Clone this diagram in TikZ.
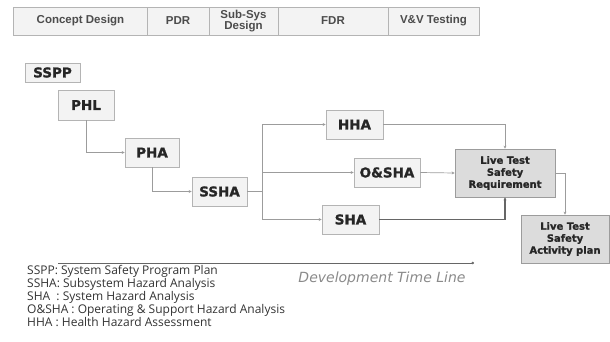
\documentclass[tikz,border=0pt]{standalone}
\usepackage{fontspec}
\setmainfont{Open Sans}
\newfontfamily\boxfont{DejaVu Sans}[BoldFeatures={FakeBold=1.2}]
\newfontfamily\tlfont{DejaVu Sans}
\newfontfamily\barfont{Liberation Sans}
\usetikzlibrary{arrows.meta,positioning,calc,shadows}
\definecolor{linegray}{HTML}{9C9C9C}
\definecolor{boxline}{HTML}{B4B4B4}
\definecolor{boxfill}{HTML}{F3F3F3}
\definecolor{reqfill}{HTML}{DCDCDC}
\definecolor{darkline}{HTML}{666666}
\definecolor{labelgray}{HTML}{8A8A8A}
\tikzset{
  phase/.style={draw=boxline,fill=boxfill,minimum height=28pt,inner sep=0pt,
    font=\barfont\fontsize{11.5}{11.5}\selectfont\bfseries,text=black!70,align=center,line width=0.6pt},
  hbox/.style={draw=boxline,fill=boxfill,inner sep=0pt,line width=0.7pt,
    drop shadow={shadow xshift=1pt,shadow yshift=-1pt,fill=black,opacity=0.15},
    font=\boxfont\fontsize{13.5}{14}\selectfont\bfseries,text=black!85},
  rbox/.style={hbox,fill=reqfill,draw=linegray,align=center,
    font=\boxfont\fontsize{10}{12}\selectfont\bfseries},
  flow/.style={-{Stealth[length=3pt,width=3pt]},color=linegray,line width=0.7pt},
  plain/.style={color=linegray,line width=0.7pt},
}
\begin{document}
\begin{tikzpicture}[x=1pt,y=-1pt]
  \useasboundingbox (0,0) rectangle (610,341);
  % phase bar
  \node[phase,minimum width=135pt] (cd) at (80.5,21) {Concept Design};
  \node[phase,minimum width=62pt] (pdr) at (178,21) {PDR};
  \node[phase,minimum width=69pt] (ssd) at (243.5,21) {Sub-Sys\\Design};
  \node[phase,minimum width=110pt] (fdr) at (333,21) {FDR};
  \node[phase,minimum width=91pt] (vv) at (433.5,21) {V\&V Testing};

  % analyses
  \node[hbox,minimum width=55pt,minimum height=19pt] (sspp) at (52.5,72.5) {SSPP};
  \node[hbox,minimum width=56pt,minimum height=30pt] (phl) at (86,105) {PHL};
  \node[hbox,minimum width=54pt,minimum height=29pt] (pha) at (152,152.5) {PHA};
  \node[hbox,minimum width=55pt,minimum height=29pt] (ssha) at (219.5,191.5) {SSHA};
  \node[hbox,minimum width=57pt,minimum height=29pt] (hha) at (354.5,124.5) {HHA};
  \node[hbox,minimum width=66pt,minimum height=29pt] (osha) at (387,172.5) {O\&SHA};
  \node[hbox,minimum width=57pt,minimum height=29pt] (sha) at (350.5,219.5) {SHA};
  \node[rbox,minimum width=100pt,minimum height=48pt] (ltsr) at (505,173)
    {Live Test\\Safety\\Requirement};
  \node[rbox,minimum width=88pt,minimum height=48pt] (ltsap) at (565,239)
    {Live Test\\Safety\\Activity plan};

  \coordinate (br) at (262,191.5);
  \draw[flow] (phl.south) |- (pha.west);
  \draw[flow] (pha.south) |- (ssha.west);
  \draw[plain] (ssha.east) -- (br);
  \draw[flow] (br) |- (hha.west);
  \draw[flow] (br) |- (sha.west);
  \draw[flow] (br |- osha.west) -- (osha.west);
  \draw[flow] (hha.east) -| (ltsr.north);
  \draw[flow] (osha.east) -- (ltsr.west);
  \draw[flow,color=darkline,line width=1.1pt] (sha.east) -| (ltsr.south);
  \draw[flow] (ltsr.east) -| (ltsap.north);

  % time line
  \coordinate (tl0) at (58,263);
  \coordinate (tl1) at (474,263);
  \draw[-{Circle[length=2.5pt]},color=black!60,line width=0.6pt] (tl0) -- (tl1);
  \node[font=\tlfont\fontsize{14}{15}\selectfont\itshape,text=labelgray] (tlabel) at (382,279)
    {Development Time Line};

  % legend
  \node[anchor=north west,align=left,inner sep=0pt,text=black!80,
    font=\fontsize{12}{13}\selectfont] (legend) at (27,265)
    {SSPP: System Safety Program Plan\\
     SSHA: Subsystem Hazard Analysis\\
     SHA\ \ : System Hazard Analysis\\
     O\&SHA : Operating \& Support Hazard Analysis\\
     HHA : Health Hazard Assessment};
\end{tikzpicture}
\end{document}
